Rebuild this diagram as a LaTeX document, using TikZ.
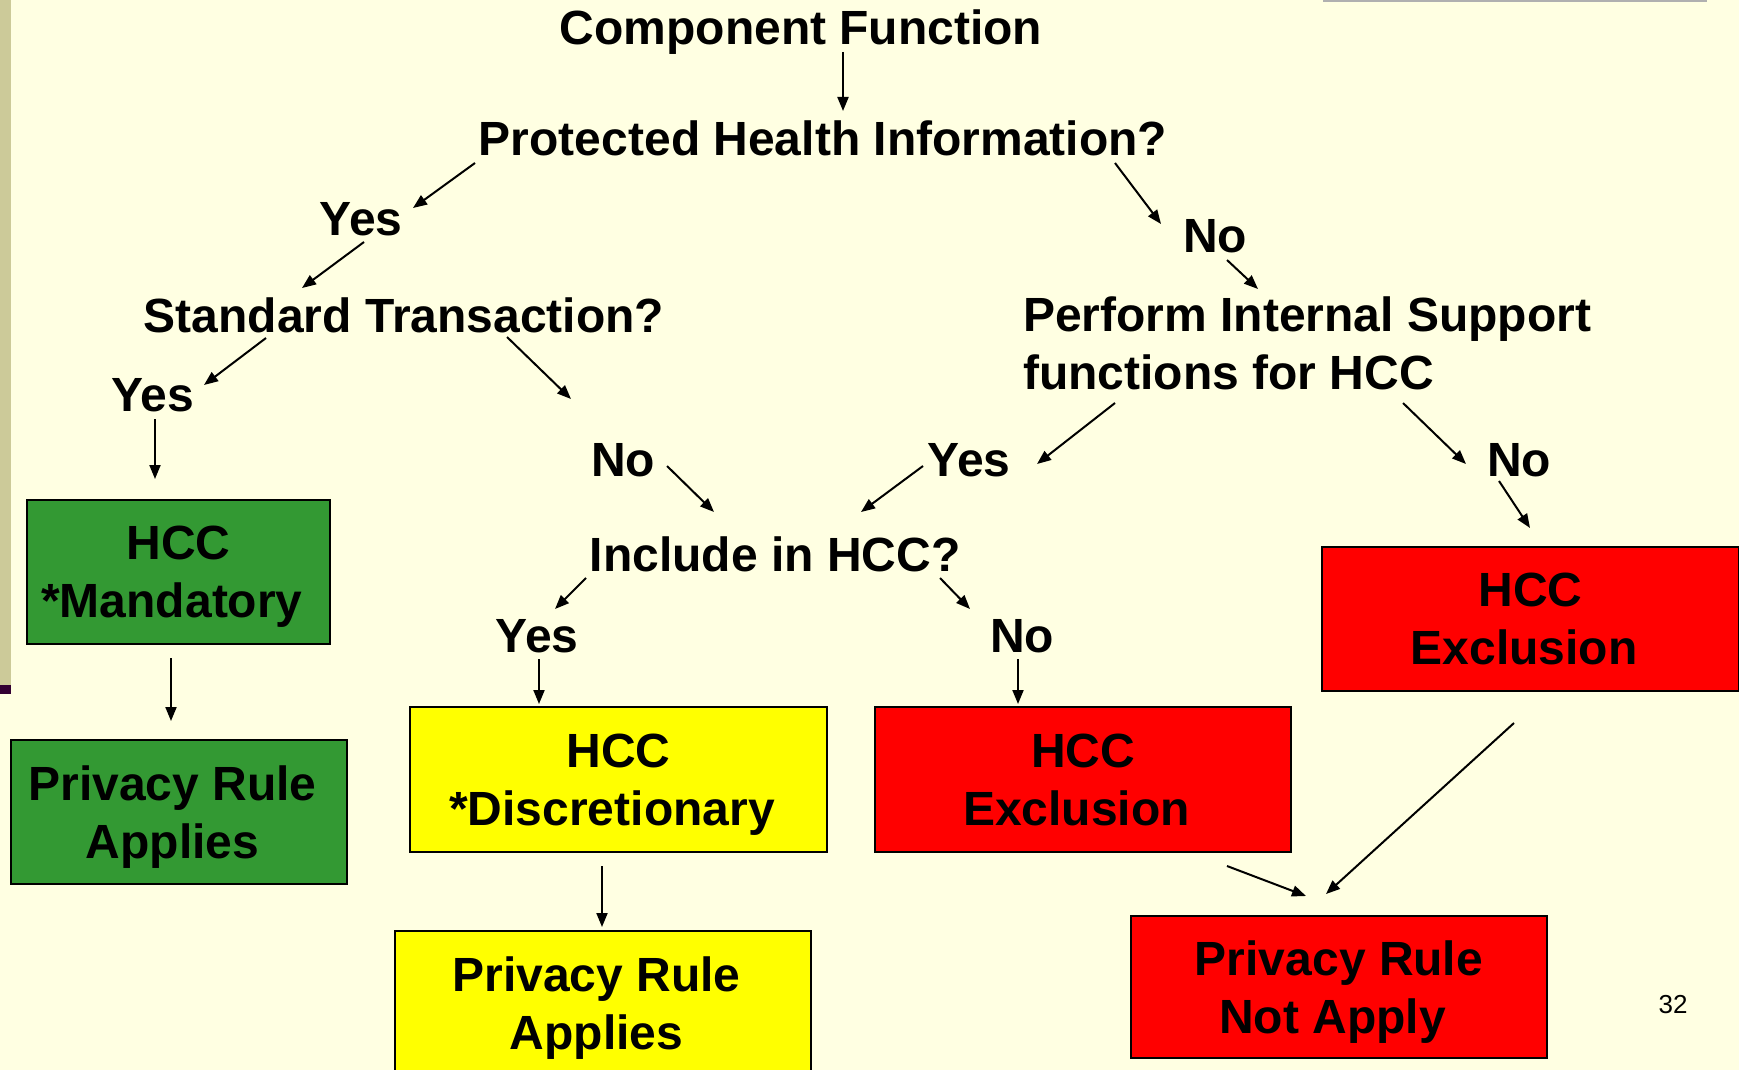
\documentclass[tikz,border=0pt]{standalone}
\usepackage{fontspec}
\setmainfont{Liberation Sans}
\usetikzlibrary{arrows.meta}
\definecolor{bgcol}{RGB}{255,255,226}
\definecolor{stripecol}{RGB}{204,202,153}
\definecolor{barcol}{RGB}{51,0,51}
\definecolor{topline}{RGB}{176,176,176}
\definecolor{boxgreen}{RGB}{51,153,51}
\definecolor{boxyellow}{RGB}{255,255,0}
\definecolor{boxred}{RGB}{255,0,0}
\newcommand{\pad}{\hspace*{13pt}}
\tikzset{
  lbl/.style={font=\bfseries\fontsize{48}{57.6}\selectfont, inner sep=0pt, anchor=base},
  resbox/.style={draw=black, line width=2.5pt, font=\bfseries\fontsize{48}{57.6}\selectfont,
    align=center, text depth=0pt, inner sep=0pt, minimum width=#1},
  arr/.style={-{Triangle[length=14pt,width=11pt]}, line width=2pt}
}
\begin{document}
\begin{tikzpicture}[x=1pt,y=-1pt]
\useasboundingbox (0,0) rectangle (1739,1070);
\clip (0,0) rectangle (1739,1070);
\fill[bgcol] (0,0) rectangle (1739,1070);
\fill[stripecol] (0,0) rectangle (11,685);
\fill[barcol] (0,685) rectangle (11,694);
\draw[topline, line width=2.5pt] (1323,1) -- (1707,1);

% text labels
\node[lbl] (comp) at (801,45) {Component Function};
\node[lbl] (phi) at (823,155) {Protected Health Information?};
\node[lbl] (yes1) at (361,235) {Yes};
\node[lbl] (std) at (404,332) {Standard Transaction?};
\node[lbl] (yes2) at (153,411) {Yes};
\node[lbl] (no1) at (1215,252) {No};
\node[lbl, anchor=north west, align=left] (perf) at (1023,297) {Perform Internal Support\\functions for HCC};
\node[lbl] (no2) at (623,476) {No};
\node[lbl] (yes3) at (969,476) {Yes};
\node[lbl] (no3) at (1519,476) {No};
\node[lbl] (inc) at (775,571) {Include in HCC?};
\node[lbl] (yes4) at (537,652) {Yes};
\node[lbl] (no4) at (1022,652) {No};

% boxes
\node[resbox=303pt, minimum height=144pt, fill=boxgreen] (mand) at (178.5,572) {HCC\\*Mandatory\pad};
\node[resbox=336pt, minimum height=144pt, fill=boxgreen] (appg) at (179,812) {Privacy Rule\pad\\Applies\pad};
\node[resbox=417pt, minimum height=145pt, fill=boxyellow] (disc) at (618.5,779.5) {HCC\\*Discretionary\pad};
\node[resbox=416pt, minimum height=144pt, fill=boxyellow] (appy) at (603,1003) {Privacy Rule\pad\\Applies\pad};
\node[resbox=416pt, minimum height=145pt, fill=boxred] (excm) at (1083,779.5) {HCC\\Exclusion\pad};
\node[resbox=417pt, minimum height=144pt, fill=boxred] (excr) at (1530.5,619) {HCC\\Exclusion\pad};
\node[resbox=416pt, minimum height=142pt, fill=boxred] (notap) at (1339,987) {Privacy Rule\\Not Apply\pad};

\node[font=\fontsize{26}{30}\selectfont, inner sep=0pt] (pgnum) at (1673,1005) {32};

% connector end points
\coordinate (a1s) at (843,52);   \coordinate (a1e) at (843,111);
\coordinate (a2s) at (475,163);  \coordinate (a2e) at (413,208);
\coordinate (a3s) at (364,242);  \coordinate (a3e) at (302,288);
\coordinate (a4s) at (266,338);  \coordinate (a4e) at (204,385);
\coordinate (a5s) at (155,419);  \coordinate (a5e) at (155,479);
\coordinate (a6s) at (171,658);  \coordinate (a6e) at (171,721);
\coordinate (a7s) at (507,337);  \coordinate (a7e) at (571,399);
\coordinate (a8s) at (667,466);  \coordinate (a8e) at (714,512);
\coordinate (a9s) at (586,578);  \coordinate (a9e) at (555,609);
\coordinate (a10s) at (539,659); \coordinate (a10e) at (539,704);
\coordinate (a11s) at (602,866); \coordinate (a11e) at (602,927);
\coordinate (a12s) at (940,578); \coordinate (a12e) at (970,609);
\coordinate (a13s) at (1018,659);\coordinate (a13e) at (1018,704);
\coordinate (a14s) at (1227,866);\coordinate (a14e) at (1306,896);
\coordinate (a15s) at (1115,163);\coordinate (a15e) at (1161,224);
\coordinate (a16s) at (1227,260);\coordinate (a16e) at (1258,289);
\coordinate (a17s) at (1115,403);\coordinate (a17e) at (1037,464);
\coordinate (a18s) at (923,466); \coordinate (a18e) at (861,512);
\coordinate (a19s) at (1403,403);\coordinate (a19e) at (1466,464);
\coordinate (a20s) at (1499,481);\coordinate (a20e) at (1530,528);
\coordinate (a21s) at (1514,723);\coordinate (a21e) at (1326,894);

\foreach \i in {1,...,21}{\draw[arr] (a\i s) -- (a\i e);}
\end{tikzpicture}
\end{document}
